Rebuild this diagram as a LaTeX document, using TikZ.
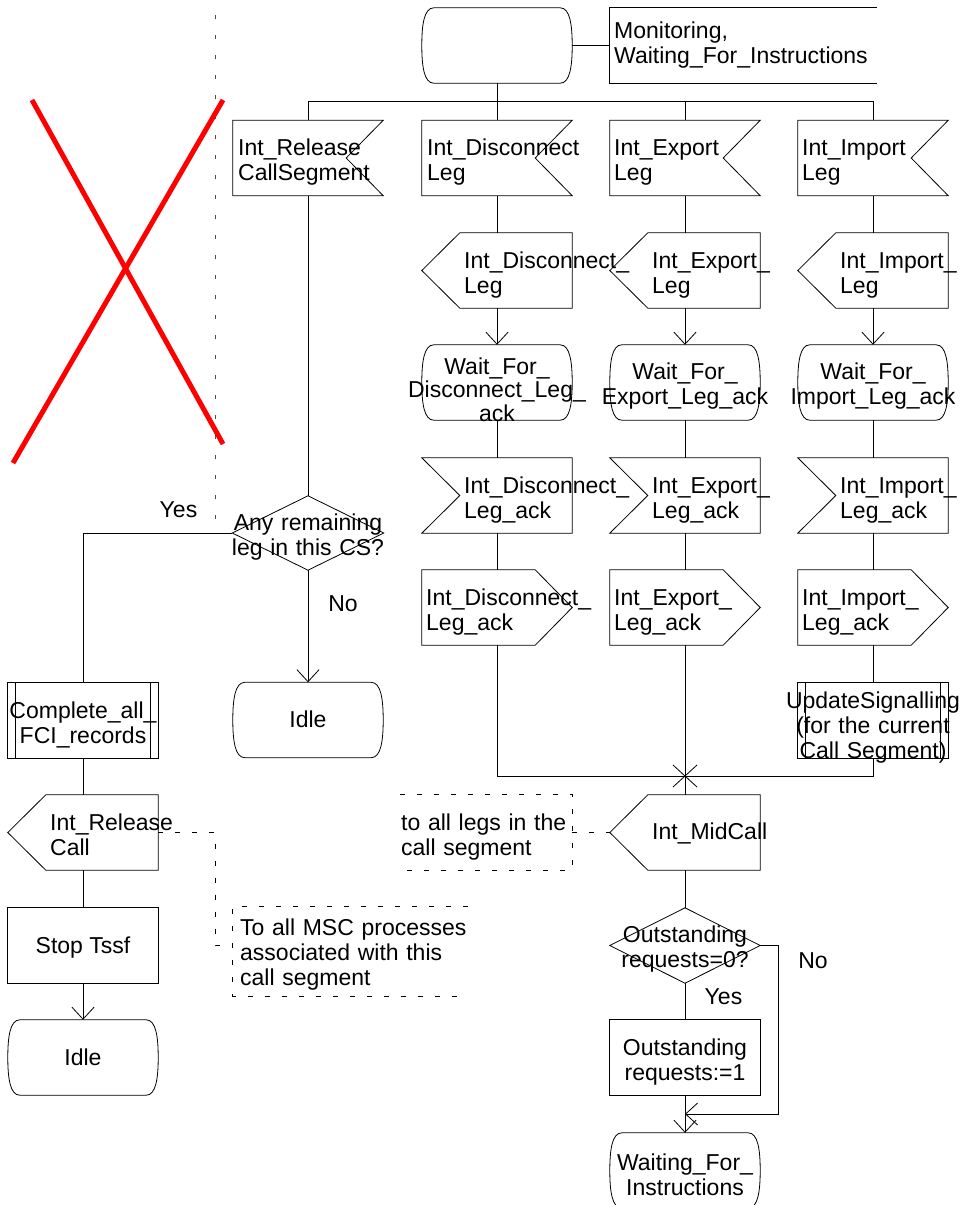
\documentclass[tikz,border=0pt]{standalone}
\usepackage{fontspec}
\setmainfont{Liberation Sans}
\usetikzlibrary{arrows.meta,calc}
\newcommand\fsz{\fontsize{23pt}{25pt}\selectfont}
\newcommand\sdlinR[1]{\draw[ln] (#1.north west) -- (#1.north east) -- ([xshift=-37pt]#1.east) -- (#1.south east) -- (#1.south west) -- cycle;}
\newcommand\sdlinL[1]{\draw[ln] (#1.north west) -- (#1.north east) -- (#1.south east) -- (#1.south west) -- ([xshift=38pt]#1.west) -- cycle;}
\newcommand\sdloutL[1]{\draw[ln] ([xshift=38pt]#1.north west) -- (#1.north east) -- (#1.south east) -- ([xshift=38pt]#1.south west) -- (#1.west) -- cycle;}
\newcommand\sdloutR[1]{\draw[ln] (#1.north west) -- ([xshift=-37pt]#1.north east) -- (#1.east) -- ([xshift=-37pt]#1.south east) -- (#1.south west) -- cycle;}
\newcommand\sdlstate[1]{\draw[ln] ([xshift=12pt]#1.north west) -- ([xshift=-12pt]#1.north east) .. controls ([xshift=-2pt]#1.north east) and ([yshift=-18pt]#1.north east) .. (#1.east) .. controls ([yshift=18pt]#1.south east) and ([xshift=-2pt]#1.south east) .. ([xshift=-12pt]#1.south east) -- ([xshift=12pt]#1.south west) .. controls ([xshift=2pt]#1.south west) and ([yshift=18pt]#1.south west) .. (#1.west) .. controls ([yshift=-18pt]#1.north west) and ([xshift=2pt]#1.north west) .. ([xshift=12pt]#1.north west);}
\newcommand\sdlproc[1]{\draw[ln] (#1.north west) rectangle (#1.south east);
  \draw[ln] ([xshift=8pt]#1.north west) -- ([xshift=8pt]#1.south west);
  \draw[ln] ([xshift=-8pt]#1.north east) -- ([xshift=-8pt]#1.south east);}
\newcommand\sdldec[1]{\draw[ln] (#1.north) -- (#1.east) -- (#1.south) -- (#1.west) -- cycle;}
\begin{document}
\begin{tikzpicture}[x=1pt,y=-1pt,
  ln/.style={line width=0.8pt},
  blank/.style={inner sep=0pt, minimum width=150pt, minimum height=75pt},
  arr/.style={ln,-{Straight Barb[length=12pt,width=22pt]}},
  dsh/.style={line width=0.8pt, dash pattern=on 5pt off 12pt},
  tx/.style={inner sep=0pt, font=\fsz, anchor=base},
  tl/.style={tx, text width=300pt, align=left, anchor=base west},
  tc/.style={tx, text width=240pt, align=center, anchor=base},
]
\useasboundingbox (0,0) rectangle (965,1205);
\fill[white] (0,0) rectangle (965,1205);

% shape holders
\node[blank] (s0) at (497,45.5) {};
\node[blank, minimum width=267pt] (mon) at (743.5,45.5) {};
\node[blank] (i1B) at (308,158) {};
\node[blank] (i1C) at (497,158) {};
\node[blank] (i1D) at (685,158) {};
\node[blank] (i1E) at (873,158) {};
\node[blank] (o2C) at (497,270.5) {};
\node[blank] (o2D) at (685,270.5) {};
\node[blank] (o2E) at (873,270.5) {};
\node[blank] (w3C) at (497,382.5) {};
\node[blank] (w3D) at (685,382.5) {};
\node[blank] (w3E) at (873,382.5) {};
\node[blank] (i4C) at (497,495.5) {};
\node[blank] (i4D) at (685,495.5) {};
\node[blank] (i4E) at (873,495.5) {};
\node[blank] (o5C) at (497,607.5) {};
\node[blank] (o5D) at (685,607.5) {};
\node[blank] (o5E) at (873,607.5) {};
\node[blank] (pE) at (873,720.5) {};
\node[blank, minimum width=151pt, minimum height=74pt] (dB) at (308,533) {};
\node[blank] (idB) at (308,720) {};
\node[blank] (cA) at (83,720.5) {};
\node[blank] (rel) at (83,832.5) {};
\node[blank] (stA) at (83,945.5) {};
\node[blank] (idA) at (83,1057.5) {};
\node[blank] (mid) at (685,832.5) {};
\node[blank] (q) at (685,945.5) {};
\node[blank] (task) at (685,1057.5) {};
\node[blank] (wt) at (685,1170.5) {};
\node[blank, minimum width=172pt] (cm1) at (486,832.5) {};
\node[blank, minimum width=235pt, minimum height=89pt] (cm2) at (350.5,951.5) {};
\coordinate (mx) at (685,776);
\coordinate (jn) at (685,1114);

% red cross and dotted line
\coordinate (dt) at (215,15);
\coordinate (db) at (215,533);
\draw[line width=1pt, black!70, dash pattern=on 4pt off 16pt] (dt) -- (db);
\coordinate (r1) at (32,100);
\coordinate (r2) at (223,444);
\coordinate (r3) at (223,100);
\coordinate (r4) at (13,463);
\draw[red, line width=5pt] (r1) -- (r2);
\draw[red, line width=5pt] (r3) -- (r4);

% shapes
\sdlstate{s0}
\draw[ln] (mon.north east) -- (mon.north west) -- (mon.south west) -- (mon.south east);
\sdlinR{i1B}\sdlinR{i1C}\sdlinR{i1D}\sdlinR{i1E}
\sdloutL{o2C}\sdloutL{o2D}\sdloutL{o2E}
\sdlstate{w3C}\sdlstate{w3D}\sdlstate{w3E}
\sdlinL{i4C}\sdlinL{i4D}\sdlinL{i4E}
\sdloutR{o5C}\sdloutR{o5D}\sdloutR{o5E}
\sdlproc{pE}
\sdldec{dB}
\sdlstate{idB}
\sdlproc{cA}
\sdloutL{rel}
\draw[ln] (stA.north west) rectangle (stA.south east);
\sdlstate{idA}
\sdloutL{mid}
\sdldec{q}
\draw[ln] (task.north west) rectangle (task.south east);
\sdlstate{wt}
\draw[dsh] (cm1.north west) -- (cm1.north east) -- (cm1.south east) -- (cm1.south west);
\draw[dsh] (cm2.north east) -- (cm2.north west) -- (cm2.south west) -- (cm2.south east);

% connectors
\draw[ln] (s0.east) -- (mon.west);
\draw[ln] (s0.south) -- (i1C.north);
\draw[ln] (i1B.north) -- ++(0,-19) -| (i1E.north);
\draw[ln] (i1D.north) -- ++(0,-19);
\draw[ln] (i1B.south) -- (dB.north);
\draw[ln] (i1C.south) -- (o2C.north);
\draw[ln] (i1D.south) -- (o2D.north);
\draw[ln] (i1E.south) -- (o2E.north);
\draw[arr] (o2C.south) -- (w3C.north);
\draw[arr] (o2D.south) -- (w3D.north);
\draw[arr] (o2E.south) -- (w3E.north);
\draw[ln] (w3C.south) -- (i4C.north);
\draw[ln] (w3D.south) -- (i4D.north);
\draw[ln] (w3E.south) -- (i4E.north);
\draw[ln] (i4C.south) -- (o5C.north);
\draw[ln] (i4D.south) -- (o5D.north);
\draw[ln] (i4E.south) -- (o5E.north);
\draw[ln] (o5C.south) |- (mx);
\draw[ln] (o5E.south) -- (pE.north);
\draw[ln] (pE.south) |- (mx);
\draw[ln] (o5D.south) -- (mid.north);
\draw[ln] ($(mx)+(-12,-11)$) -- ($(mx)+(12,11)$);
\draw[ln] ($(mx)+(12,-11)$) -- ($(mx)+(-12,11)$);
\draw[dsh] (cm1.east) -- (mid.west);
\draw[ln] (mid.south) -- (q.north);
\draw[ln] (q.south) -- (task.north);
\draw[arr] (q.east) -- ++(18,0) |- (jn);
\draw[arr] (task.south) -- (wt.north);
\draw[ln] (dB.west) -| (cA.north);
\draw[arr] (dB.south) -- (idB.north);
\draw[ln] (cA.south) -- (rel.north);
\draw[ln] (rel.south) -- (stA.north);
\draw[arr] (stA.south) -- (idA.north);
\draw[dsh] (rel.east) -- ++(57,0) |- ([yshift=6pt]cm2.west);

% texts
\node[tl] (t0) at (614,38) {Monitoring,\\Waiting\_For\_Instructions};
\node[tl] (t1B) at (238,155) {Int\_Release\\CallSegment};
\node[tl] (t1C) at (427,155) {Int\_Disconnect\\Leg};
\node[tl] (t1D) at (614,155) {Int\_Export\\Leg};
\node[tl] (t1E) at (802,155) {Int\_Import\\Leg};
\node[tl] (t2C) at (464,268) {Int\_Disconnect\_\\Leg};
\node[tl] (t2D) at (652,268) {Int\_Export\_\\Leg};
\node[tl] (t2E) at (840,268) {Int\_Import\_\\Leg};
\node[tc, font=\fontsize{23pt}{23.5pt}\selectfont] (t3C) at (497,374) {Wait\_For\_\\Disconnect\_Leg\_\\ack};
\node[tc] (t3D) at (685,379) {Wait\_For\_\\Export\_Leg\_ack};
\node[tc] (t3E) at (873,379) {Wait\_For\_\\Import\_Leg\_ack};
\node[tl] (t4C) at (464,493) {Int\_Disconnect\_\\Leg\_ack};
\node[tl] (t4D) at (652,493) {Int\_Export\_\\Leg\_ack};
\node[tl] (t4E) at (840,493) {Int\_Import\_\\Leg\_ack};
\node[tl] (t5C) at (426,605) {Int\_Disconnect\_\\Leg\_ack};
\node[tl] (t5D) at (614,605) {Int\_Export\_\\Leg\_ack};
\node[tl] (t5E) at (802,605) {Int\_Import\_\\Leg\_ack};
\node[tc] (t6E) at (873,708) {UpdateSignalling\\(for the current\\Call Segment)};
\node[tc] (tdB) at (308,530) {Any remaining\\leg in this CS?};
\node[tx] (tiB) at (308,727) {Idle};
\node[tc] (tcA) at (83,718) {Complete\_all\_\\FCI\_records};
\node[tl] (trel) at (50,830) {Int\_Release\\Call};
\node[tx] (tst) at (83,953) {Stop Tssf};
\node[tx] (tiA) at (83,1065) {Idle};
\node[tx, anchor=base west] (tmid) at (652,839) {Int\_MidCall};
\node[tc] (tq) at (685,942) {Outstanding\\requests=0?};
\node[tc] (ttask) at (685,1055) {Outstanding\\requests:=1};
\node[tc] (twt) at (685,1170) {Waiting\_For\_\\Instructions};
\node[tl] (tcm1) at (401,830) {to all legs in the\\call segment};
\node[tl] (tcm2) at (240,935) {To all MSC processes\\associated with this\\call segment};
\node[tx] (ly1) at (178.5,517) {Yes};
\node[tx] (ln1) at (343,611) {No};
\node[tx] (ly2) at (723.5,1004) {Yes};
\node[tx] (ln2) at (813,968) {No};
\end{tikzpicture}
\end{document}
